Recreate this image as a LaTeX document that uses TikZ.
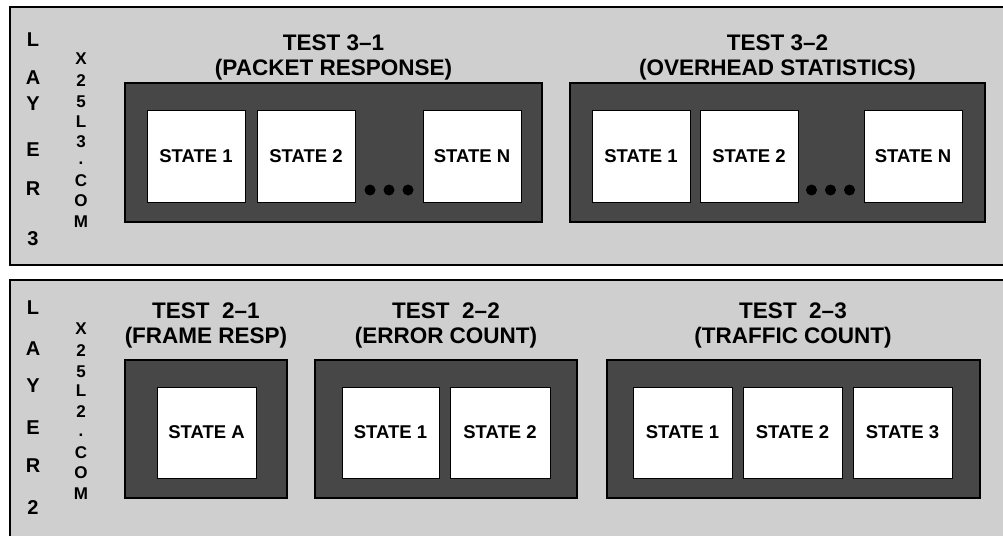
\documentclass[tikz,border=0pt]{standalone}
\usepackage{fontspec}
\setmainfont{Liberation Sans}
\begin{document}
\begin{tikzpicture}[x=1pt,y=-1pt,
  panel/.style={draw=black, line width=2.2pt, fill=black!19},
  frame/.style={draw=black, line width=1.5pt, fill=black!72, inner sep=0pt},
  statebox/.style={draw=black, line width=0.8pt, fill=white, minimum width=98pt, minimum height=92pt, inner sep=0pt, font=\fontsize{18.5}{20}\selectfont\bfseries},
  title/.style={font=\fontsize{22.5}{24}\selectfont\bfseries, inner sep=0pt, text height=16pt, text depth=0pt},
  big/.style={font=\fontsize{20}{22}\selectfont\bfseries, inner sep=0pt, text height=14.3pt, text depth=0pt},
  small/.style={font=\fontsize{17}{18}\selectfont\bfseries, inner sep=0pt, text height=12.2pt, text depth=0pt},
  smalldot/.style={font=\fontsize{17}{18}\selectfont\bfseries, inner sep=0pt, text height=2.5pt, text depth=0pt, anchor=base},
  dotmark/.style={circle, fill=black, inner sep=0pt, minimum size=11pt}]
\useasboundingbox (0,0) rectangle (1003,535);
\clip (0,0) rectangle (1003,535);
\fill[white] (0,0) rectangle (1003,535);
% panels
\path[panel] (10,7) rectangle (1020,265);
\path[panel] (10,280) rectangle (1020,560);
% ---------- layer 3 ----------
\foreach \ch/\yy [count=\i] in {L/39,A/77,Y/103,E/149,R/188,3/238}
  \node[big] (lay3-\i) at (33,\yy) {\ch};
\foreach \ch/\yy [count=\i] in {X/58,2/80,5/101,L/121,3/141,C/180,O/200,M/221}
  \node[small] (x3-\i) at (81,\yy) {\ch};
\node[smalldot] (x3-dot) at (81,164) {.};
\node[title] (t31a) at (333.5,43) {TEST 3--1};
\node[title] (t31b) at (333.5,67) {(PACKET RESPONSE)};
\node[title] (t32a) at (777.5,43) {TEST 3--2};
\node[title] (t32b) at (777.5,67) {(OVERHEAD STATISTICS)};
\node[frame, minimum width=417pt, minimum height=139pt] (f31) at (333.5,152.5) {};
\node[frame, minimum width=415pt, minimum height=139pt] (f32) at (777.5,152.5) {};
\node[statebox] (s31a) at (196,156) {STATE 1};
\node[statebox] (s31b) at (306,156) {STATE 2};
\node[statebox] (s31n) at (472,156) {STATE N};
\node[statebox] (s32a) at (641,156) {STATE 1};
\node[statebox] (s32b) at (749,156) {STATE 2};
\node[statebox] (s32n) at (913,156) {STATE N};
\foreach \xx [count=\i] in {370,389,408}
  \node[dotmark] (d31-\i) at (\xx,190) {};
\foreach \xx [count=\i] in {811.5,830.5,849.5}
  \node[dotmark] (d32-\i) at (\xx,190) {};
% ---------- layer 2 ----------
\foreach \ch/\yy [count=\i] in {L/307,A/348,Y/385,E/427,R/465,2/507}
  \node[big] (lay2-\i) at (33,\yy) {\ch};
\foreach \ch/\yy [count=\i] in {X/328,2/350,5/371,L/390,2/411,C/452,O/472,M/493}
  \node[small] (x2-\i) at (81,\yy) {\ch};
\node[smalldot] (x2-dot) at (81,436) {.};
\node[title] (t21a) at (206,310) {TEST\ \ 2--1};
\node[title] (t21b) at (206,335) {(FRAME RESP)};
\node[title] (t22a) at (446,310) {TEST\ \ 2--2};
\node[title] (t22b) at (446,335) {(ERROR COUNT)};
\node[title] (t23a) at (793,310) {TEST\ \ 2--3};
\node[title] (t23b) at (793,335) {(TRAFFIC COUNT)};
\node[frame, minimum width=162pt, minimum height=138pt] (f21) at (206,429) {};
\node[frame, minimum width=262pt, minimum height=138pt] (f22) at (446,429) {};
\node[frame, minimum width=373pt, minimum height=138pt] (f23) at (793.5,429) {};
\node[statebox, minimum width=99pt, minimum height=91pt] (s21a) at (206.5,432.5) {STATE A};
\node[statebox, minimum width=97pt, minimum height=91pt] (s22a) at (390.5,432.5) {STATE 1};
\node[statebox, minimum width=100pt, minimum height=91pt] (s22b) at (500,432.5) {STATE 2};
\node[statebox, minimum width=99pt, minimum height=91pt] (s23a) at (682.5,432.5) {STATE 1};
\node[statebox, minimum width=99pt, minimum height=91pt] (s23b) at (792.5,432.5) {STATE 2};
\node[statebox, minimum width=99pt, minimum height=91pt] (s23c) at (902.5,432.5) {STATE 3};
\end{tikzpicture}
\end{document}
